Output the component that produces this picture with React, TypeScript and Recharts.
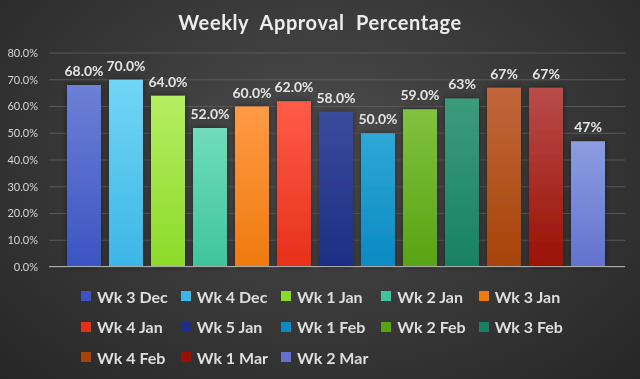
import { BarChart, Bar, XAxis, YAxis, CartesianGrid, Legend, LabelList } from 'recharts';

const weeks = [
  'Wk 3 Dec', 'Wk 4 Dec', 'Wk 1 Jan', 'Wk 2 Jan', 'Wk 3 Jan', 'Wk 4 Jan', 'Wk 5 Jan',
  'Wk 1 Feb', 'Wk 2 Feb', 'Wk 3 Feb', 'Wk 4 Feb', 'Wk 1 Mar', 'Wk 2 Mar',
];
const approval = [68, 70, 64, 52, 60, 62, 58, 50, 59, 63, 67, 67, 47];
const valueLabels = [
  '68.0%', '70.0%', '64.0%', '52.0%', '60.0%', '62.0%', '58.0%',
  '50.0%', '59.0%', '63%', '67%', '67%', '47%',
];
const yTicks = [0, 10, 20, 30, 40, 50, 60, 70, 80];

// top / bottom of each bar's gradient
const colorsTop = [
  '#6c80d6', '#72d6f6', '#b4ee62', '#70dcba', '#ff9a45', '#ff5c48', '#3b4b9c',
  '#2ea8d6', '#80c23e', '#3c9b7c', '#c2663c', '#b94c4a', '#8c9de2',
];
const colorsBottom = [
  '#3c54c2', '#3bb6e6', '#8cda28', '#3ec59c', '#ef7a0e', '#e6301a', '#1d2e84',
  '#098ac2', '#58a312', '#188162', '#a64407', '#9a1104', '#6272ce',
];

const row: Record<string, string | number> = { name: 'week' };
weeks.forEach((w, i) => {
  row[w] = approval[i];
});
const data = [row];

const LegendGrid = () => (
  <div
    style={{
      display: 'grid',
      gridTemplateColumns: 'repeat(5, auto)',
      justifyContent: 'center',
      columnGap: 13,
      paddingLeft: 4,
    }}
  >
    {weeks.map((w, i) => (
      <div key={w} style={{ display: 'flex', alignItems: 'center', height: 30.5 }}>
        <span
          style={{
            width: 10,
            height: 10,
            marginRight: 6,
            background: colorsBottom[i],
            display: 'inline-block',
          }}
        />
        <span style={{ color: '#dedede', fontSize: 16, fontWeight: 700, whiteSpace: 'nowrap' }}>{w}</span>
      </div>
    ))}
  </div>
);

export default function App() {
  return (
    <div
      style={{
        position: 'fixed',
        left: 0,
        top: 0,
        width: 640,
        height: 379,
        background: 'radial-gradient(ellipse at 50% 40%, #4d4d4d 0%, #3b3b3b 45%, #262626 100%)',
        fontFamily: 'Lato, sans-serif',
        overflow: 'hidden',
      }}
    >
      <div
        style={{
          position: 'absolute',
          top: 10,
          left: 0,
          width: 640,
          textAlign: 'center',
          color: '#ececec',
          fontSize: 20,
          fontWeight: 700,
          letterSpacing: 0.6,
          wordSpacing: 6,
        }}
      >
        Weekly Approval Percentage
      </div>
      <BarChart
        width={640}
        height={379}
        data={data}
        margin={{ top: 53, right: 15, left: 0, bottom: 112 }}
        barCategoryGap={18}
        barGap={8}
      >
        <defs>
          {weeks.map((w, i) => (
            <linearGradient key={w} id={`g${i}`} x1="0" y1="0" x2="0" y2="1">
              <stop offset="0%" stopColor={colorsTop[i]} />
              <stop offset="100%" stopColor={colorsBottom[i]} />
            </linearGradient>
          ))}
          <filter id="shadow" x="-30%" y="-10%" width="160%" height="120%">
            <feDropShadow dx="0" dy="0" stdDeviation="3" floodColor="#000" floodOpacity="0.45" />
          </filter>
        </defs>
        <CartesianGrid vertical={false} stroke="#595959" strokeWidth={1} />
        <XAxis dataKey="name" hide />
        <YAxis
          width={49}
          domain={[0, 80]}
          ticks={yTicks}
          interval={0}
          tickFormatter={(v: number) => `${v.toFixed(1)}%`}
          tick={{ fill: '#d4d4d4', fontSize: 11 }}
          tickMargin={5}
          axisLine={false}
          tickLine={false}
        />
        {weeks.map((w, i) => (
          <Bar
            key={w}
            dataKey={w}
            fill={`url(#g${i})`}
            filter="url(#shadow)"
            isAnimationActive={false}
          >
            <LabelList
              position="top"
              offset={9}
              formatter={() => valueLabels[i]}
              style={{ fill: '#e4e4e4', fontSize: 14, fontWeight: 700 }}
            />
          </Bar>
        ))}
        <Legend
          layout="horizontal"
          verticalAlign="middle"
          align="center"
          wrapperStyle={{ top: 281, left: 0, width: 640 }}
          content={() => <LegendGrid />}
        />
      </BarChart>
      <div
        style={{
          position: 'absolute',
          left: 49,
          top: 266,
          width: 576,
          height: 1,
          background: '#a9a9a9',
        }}
      />
    </div>
  );
}
